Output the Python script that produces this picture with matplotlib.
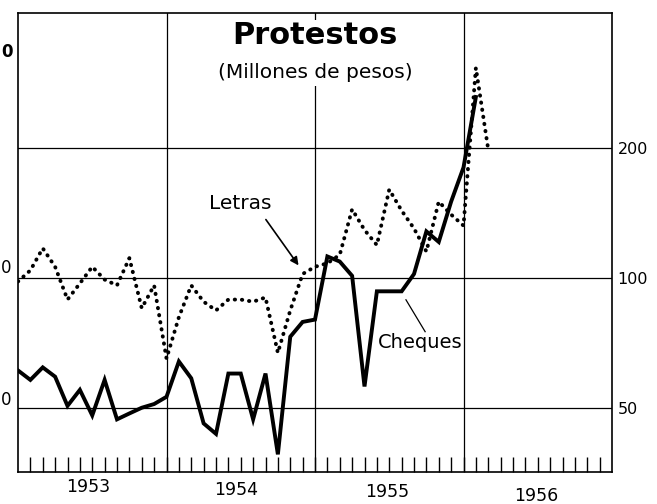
import matplotlib
matplotlib.use("Agg")
import matplotlib.pyplot as plt
from matplotlib.patches import Rectangle
import numpy as np

# ---- data (months since Jan 1953) ----
cheques_months = list(range(0, 38))
cheques = [61, 58, 62, 59, 50.5, 55, 48, 58, 47, 48.5, 50, 51,
           53, 64, 58.5, 46, 43.5, 60, 60, 47, 60, 39, 73, 79,
           80, 112, 109, 101, 56, 93, 93, 93, 102, 128, 121, 150,
           180, 262]

letras_months = list(range(0, 39))
letras = [98, 104, 117, 106, 89, 97, 106, 99, 96, 111, 85, 96,
          65, 81, 96, 88, 84, 89, 89, 88, 90, 67, 84, 102,
          106, 108, 113, 144, 129, 119, 160, 143, 130, 115, 150, 140,
          132, 306, 198]

years = ["1953", "1954", "1955", "1956"]
year_label_x = [5.7, 17.6, 29.8, 41.9]
year_label_dy = [-0.033, -0.039, -0.044, -0.052]
year_bounds = [12, 24, 36]
y_levels = [50, 100, 200]
y_labels = ["50", "100", "200"]

W, H = 657, 504
fig = plt.figure(figsize=(W / 100, H / 100), dpi=100)
fig.patch.set_facecolor("white")
ax = fig.add_axes([18 / W, 32 / H, 594 / W, 459 / H])

ax.set_yscale("log")
ax.set_xlim(0, 48)
ax.set_ylim(35.5, 410)

# grid lines
for xb in year_bounds:
    ax.axvline(xb, color="black", lw=0.9, zorder=1)
for yl in y_levels:
    ax.axhline(yl, color="black", lw=0.9, zorder=1)

# white area behind the title
ax.add_patch(Rectangle((0.33, 0.84), 0.34, 0.145, transform=ax.transAxes,
                       facecolor="white", edgecolor="none", zorder=2))

# series
ax.plot(cheques_months, cheques, color="black", lw=2.8,
        solid_joinstyle="miter", zorder=3)
ax.plot(letras_months, letras, color="black", lw=2.8,
        linestyle=(0, (0.1, 1.75)), dash_capstyle="round", zorder=3)

# spines
for s in ax.spines.values():
    s.set_linewidth(1.2)
    s.set_color("black")

# y ticks on right
ax.yaxis.set_minor_locator(matplotlib.ticker.NullLocator())
ax.yaxis.tick_right()
ax.set_yticks(y_levels)
ax.set_yticklabels(y_labels)
ax.tick_params(axis="y", which="major", length=0, pad=4, labelsize=11.5)

# x: monthly ticks pointing inward, year labels below
ax.set_xticks([])
ax.set_xticks(np.arange(1, 48), minor=True)
ax.tick_params(axis="x", which="minor", direction="in", length=11, width=1.0)
for lab, xx, dy in zip(years, year_label_x, year_label_dy):
    ax.text(xx, dy, lab, transform=ax.get_xaxis_transform(), ha="center",
            va="center", fontsize=12.5, clip_on=False)

# title
ax.text(0.5, 0.952, "Protestos", transform=ax.transAxes, ha="center",
        va="center", fontsize=22, fontweight="bold", zorder=4)
ax.text(0.5, 0.871, "(Millones de pesos)", transform=ax.transAxes,
        ha="center", va="center", fontsize=14.5, zorder=4)

# annotations
ax.text(0.374, 0.586, "Letras", transform=ax.transAxes, ha="center",
        va="center", fontsize=14.5, zorder=4)
ax.annotate("", xy=(22.8, 105.5), xytext=(19.9, 138),
            arrowprops=dict(arrowstyle="-|>", color="black", lw=1.2,
                            mutation_scale=12), zorder=4)
ax.text(32.5, 70.7, "Cheques", ha="center", va="center", fontsize=14,
        zorder=4)
ax.plot([32.9, 31.35], [75.0, 88.9], color="black", lw=0.9, zorder=4)

# fragments of the left-hand scale visible at the edge
fig.text(1 / W, 1 - 52 / H, "0", ha="left", va="center", fontsize=12,
         fontweight="bold")
fig.text(1 / W, 1 - 268 / H, "0", ha="left", va="center", fontsize=12)
fig.text(1 / W, 1 - 400 / H, "0", ha="left", va="center", fontsize=12)

fig.savefig("out.png", dpi=100, facecolor="white")
